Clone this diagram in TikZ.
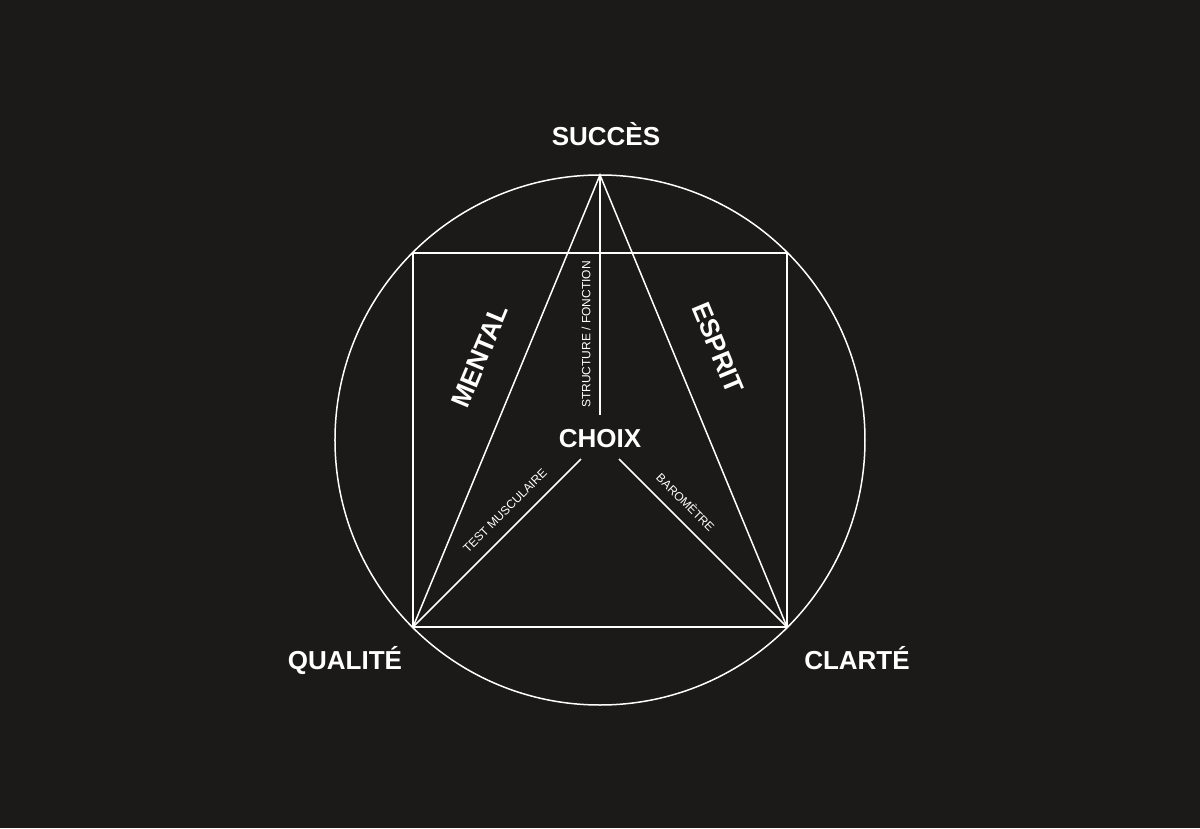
\documentclass[tikz,border=0pt]{standalone}
\usepackage{fontspec}
\setmainfont{Liberation Sans}
\usetikzlibrary{positioning}
\definecolor{bgdark}{HTML}{1B1A19}
\tikzset{
  every picture/.style={font={\bfseries}, x=1pt, y=1pt}}

\begin{document}
\begin{tikzpicture}[line width=1.5pt,
    stroke/.style={draw=white},
    pole/.style={text=white, anchor=base, font={\bfseries\fontsize{26}{30}\selectfont}},
    side/.style={text=white, font={\bfseries\fontsize{26.5}{30}\selectfont}},
    tool/.style={text=white, font={\mdseries\fontsize{12}{14}\selectfont}}]

    \fill[bgdark] (-600,-388) rectangle (600,440);
    \useasboundingbox (-600,-388) rectangle (600,440);

    % corners
    \coordinate (S) at (0,265);
    \coordinate (QL) at (-187,-187);
    \coordinate (CL) at (187,-187);
    \coordinate (TL) at (-187,187);
    \coordinate (TR) at (187,187);
    \coordinate (SE) at (0,25);
    \coordinate (QE) at (-19,-19);
    \coordinate (CE) at (19,-19);

    \draw[stroke] (0,0) circle (265);
    \draw[stroke] (QL) -- (CL) -- (TR) -- (TL) -- cycle;
    \draw[stroke] (QL) -- (S) -- (CL);
    \draw[stroke] (S) -- (SE);
    \draw[stroke] (QL) -- (QE);
    \draw[stroke] (CL) -- (CE);

    \node[pole] (succes) at (6,294) {SUCCÈS};
    \node[pole] (qualite) at (-255,-229) {QUALITÉ};
    \node[pole] (clarte) at (257,-229) {CLARTÉ};
    \node[pole] (choix) at (0,-7) {CHOIX};

    \node[side, rotate=67.5] (mental) at (-120,84) {MENTAL};
    \node[side, rotate=-67.5] (esprit) at (118,92) {ESPRIT};

    \node[tool, rotate=90] (structure) at (-14,105.5) {STRUCTURE / FONCTION};
    \node[tool, rotate=45] (test) at (-95,-71) {TEST MUSCULAIRE};
    \node[tool, rotate=-45] (barometre) at (86,-62) {BAROMÈTRE};
  \end{tikzpicture}
\end{document}
